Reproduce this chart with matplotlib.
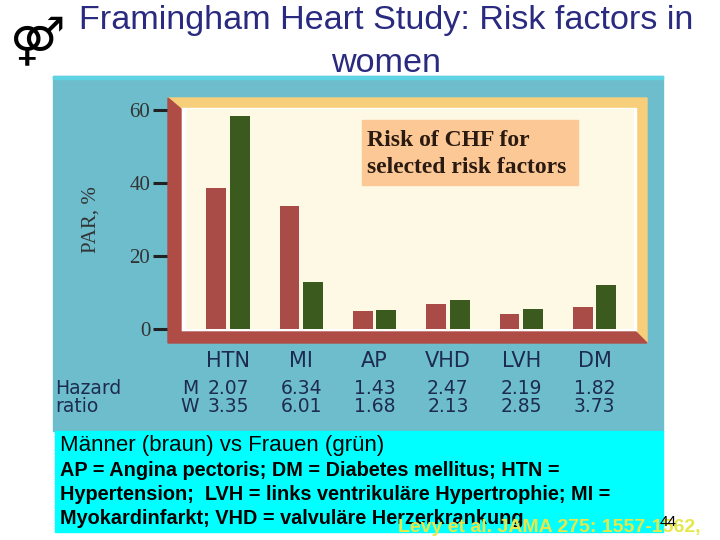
import matplotlib
matplotlib.use('Agg')
import numpy as np
import matplotlib.pyplot as plt
from matplotlib.patches import Rectangle, Polygon
from matplotlib.transforms import blended_transform_factory

# Daten (PAR, %)
kategorien = ['HTN', 'MI', 'AP', 'VHD', 'LVH', 'DM']
maenner = [38.6, 33.7, 4.9, 6.8, 4.1, 6.0]
frauen = [58.4, 12.9, 5.2, 7.9, 5.5, 12.0]
hr_m = ['2.07', '6.34', '1.43', '2.47', '2.19', '1.82']
hr_w = ['3.35', '6.01', '1.68', '2.13', '2.85', '3.73']
y_ticks = [0, 20, 40, 60]

fig = plt.figure(figsize=(7.2, 5.4), dpi=100)

# Hintergrund in Pixelkoordinaten
bg = fig.add_axes([0, 0, 1, 1], zorder=0)
bg.set_xlim(0, 720)
bg.set_ylim(540, 0)
bg.axis('off')

bg.add_patch(Rectangle((53, 76), 610, 355, color='#6dbdcc'))
bg.add_patch(Rectangle((53, 76), 610, 3, color='#5fd3e2'))
bg.add_patch(Rectangle((55, 431), 608, 101, color='#00ffff'))

# 3D-Rahmen
bg.add_patch(Polygon([(168, 98), (647, 98), (647, 343), (636, 332), (636, 108), (181, 108)],
                     closed=True, color='#f7cf7a'))
bg.add_patch(Rectangle((181, 108), 455, 224, color='white'))
bg.add_patch(Polygon([(168, 98), (181, 109), (181, 332), (636, 332), (647, 343), (168, 343)],
                     closed=True, color='#b04c46'))

# Titel
titel_farbe = '#2a2a80'
bg.text(386, 20, 'Framingham Heart Study: Risk factors in', ha='center', va='center',
        fontsize=24.6, color=titel_farbe, family='Liberation Sans')
bg.text(386, 63, 'women', ha='center', va='center',
        fontsize=24.6, color=titel_farbe, family='Liberation Sans')
bg.text(38, 42, '⚤', ha='center', va='center', fontsize=34, color='black', family='DejaVu Sans')

# Diagramm
ax = fig.add_axes([186 / 720, 1 - 329 / 540, 448 / 720, 220 / 540], zorder=1)
ax.set_facecolor('#fdf9e4')
x = np.arange(len(kategorien))
ax.bar(x - 0.16, maenner, width=0.27, color='#a94b47')
ax.bar(x + 0.16, frauen, width=0.27, color='#3b5a1e')
ax.set_xlim(-0.573, 5.539)
ax.set_ylim(0, 60.27)
for s in ['top', 'right', 'bottom']:
    ax.spines[s].set_visible(False)
ax.spines['left'].set_position(('outward', 13.7))
ax.spines['left'].set_visible(False)
ax.set_yticks(y_ticks)
ax.tick_params(axis='y', length=10, width=2.2, color='#222222', pad=2,
               labelsize=15, labelcolor='#333333')
for lab in ax.get_yticklabels():
    lab.set_family('Liberation Serif')
ax.set_xticks(x)
ax.set_xticklabels(kategorien, fontsize=15, color='#1d2b50', family='DejaVu Sans')
ax.tick_params(axis='x', length=0, pad=16)

bg.text(91, 220, 'PAR, %', rotation=90, ha='center', va='center', fontsize=15,
        color='#333333', family='Liberation Serif')

# Hazard ratio
tr = blended_transform_factory(ax.transData, bg.transData)
hr_stil = dict(va='center', fontsize=13.5, color='#1d2b50', family='DejaVu Sans')
bg.text(55, 388, 'Hazard', ha='left', **hr_stil)
bg.text(55, 406, 'ratio', ha='left', **hr_stil)
bg.text(190, 388, 'M', ha='center', **hr_stil)
bg.text(190, 406, 'W', ha='center', **hr_stil)
for i in range(len(kategorien)):
    ax.text(x[i], 388, hr_m[i], transform=tr, ha='center', **hr_stil)
    ax.text(x[i], 406, hr_w[i], transform=tr, ha='center', **hr_stil)

# Kasten
ax.add_patch(Rectangle((362, 120), 216, 65, color='#fbc896', transform=bg.transData, zorder=4))
ax.text(367, 154, 'Risk of CHF for\nselected risk factors', transform=bg.transData,
        ha='left', va='center', fontsize=17, fontweight='bold', color='#2a1a10',
        family='Liberation Serif', linespacing=1.35, zorder=5)

# Legende unten
bg.text(60, 445, 'Männer (braun) vs Frauen (grün)', ha='left', va='center',
        fontsize=16, color='black', family='Liberation Sans')
zeilen = ['AP = Angina pectoris; DM = Diabetes mellitus; HTN =',
          'Hypertension;  LVH = links ventrikuläre Hypertrophie; MI =',
          'Myokardinfarkt; VHD = valvuläre Herzerkrankung']
for k, z in enumerate(zeilen):
    bg.text(60, 470 + 24 * k, z, ha='left', va='center', fontsize=14.3, fontweight='bold',
            color='black', family='Liberation Sans')
bg.text(398, 527, 'Levy et al. JAMA 275: 1557-1562,', ha='left', va='center', fontsize=14,
        fontweight='bold', color='#e6e84a', family='Liberation Sans')
bg.text(668, 522, '44', ha='center', va='center', fontsize=11, color='black', family='Liberation Sans')

fig.savefig('out.png', dpi=100)
